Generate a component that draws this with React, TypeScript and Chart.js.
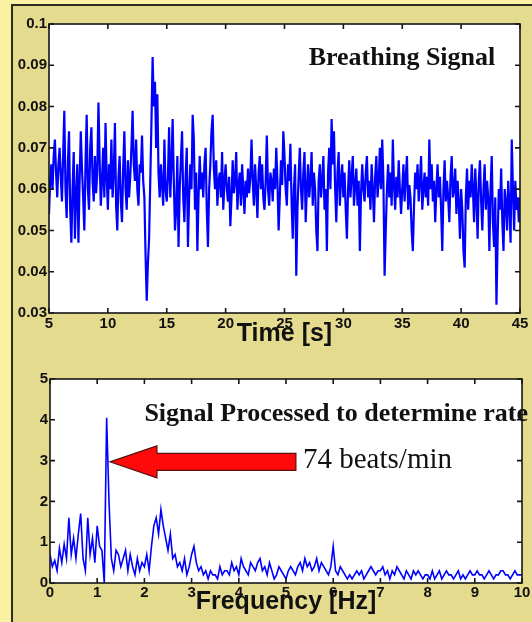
import React, { useEffect, useRef } from 'react';
import { Chart, registerables } from 'chart.js';

Chart.register(...registerables);

// ---------- DATA ----------
// Breathing signal, sampled every 0.1 s from 5 s to 45 s, values in thousandths
const timeStart = 5;
const timeStep = 0.1;
const breathingMilli = [
  54, 62, 66, 60, 68, 72, 64, 58, 66, 70,
  63, 57, 68, 79, 60, 53, 66, 74, 55, 47,
  60, 69, 48, 58, 66, 47, 62, 74, 65, 58,
  50, 66, 78, 60, 55, 70, 75, 62, 57, 68,
  59, 64, 81, 67, 56, 62, 70, 58, 76, 63,
  55, 66, 60, 72, 58, 64, 76, 56, 50, 63,
  68, 57, 52, 65, 74, 60, 55, 67, 58, 63,
  70, 79, 66, 62, 72, 60, 56, 66, 64, 73,
  62, 58, 44, 33, 42, 48, 62, 76, 92, 80,
  86, 70, 83, 64, 58, 66, 61, 56, 72, 60,
  57, 63, 75, 58, 66, 77, 62, 50, 55, 68,
  46, 60, 67, 74, 58, 52, 63, 70, 46, 58,
  66, 60, 78, 72, 55, 64, 45, 58, 68, 60,
  64, 58, 66, 70, 55, 46, 60, 66, 74, 78,
  65, 60, 67, 56, 62, 64, 58, 69, 55, 62,
  66, 60, 57, 63, 51, 58, 67, 59, 62, 69,
  55, 61, 64, 56, 66, 60, 54, 62, 58, 65,
  59, 63, 72, 62, 56, 66, 60, 53, 64, 68,
  60, 66, 58, 55, 62, 73, 60, 56, 64, 62,
  57, 65, 60, 70, 62, 50, 58, 67, 61, 74,
  68, 60, 56, 66, 62, 71, 57, 48, 60, 66,
  39, 55, 63, 70, 60, 55, 64, 69, 52, 60,
  66, 58, 62, 69, 56, 64, 60, 50, 45, 62,
  66, 58, 62, 68, 55, 60, 45, 64, 70, 60,
  77, 66, 74, 60, 52, 64, 69, 56, 62, 66,
  58, 64, 55, 48, 60, 67, 58, 63, 68, 56,
  61, 65, 56, 62, 45, 59, 66, 60, 57, 64,
  68, 58, 62, 55, 66, 60, 52, 63, 68, 58,
  62, 70, 60, 72, 62, 39, 50, 60, 66, 58,
  64, 56, 72, 61, 55, 63, 58, 67, 60, 54,
  60, 66, 57, 63, 68, 55, 61, 58, 50, 45,
  56, 64, 60, 66, 57, 62, 68, 55, 60, 64,
  58, 63, 56, 72, 60, 66, 57, 62, 52, 60,
  66, 58, 63, 55, 45, 60, 67, 57, 62, 58,
  52, 63, 68, 58, 60, 65, 54, 62, 57, 48,
  60, 55, 45, 41, 58, 65, 55, 62, 58, 66,
  60, 52, 65, 58, 48, 62, 67, 57, 50, 60,
  66, 55, 62, 58, 45, 60, 68, 52, 46, 58,
  32, 48, 60, 55, 65, 52, 45, 60, 57, 50,
  62, 56, 47, 72, 60, 50, 62, 55, 58, 52,
  58,
];

// Spectrum, sampled every 0.05 Hz from 0 to 10 Hz, values in hundredths
const freqStart = 0;
const freqStep = 0.05;
const spectrumCenti = [
  70, 40, 55, 30, 85, 50, 95, 60, 160, 70,
  110, 60, 120, 170, 60, 30, 160, 70, 110, 50,
  140, 90, 80, 0, 405, 200, 60, 30, 80, 70,
  40, 60, 80, 30, 70, 40, 20, 60, 30, 50,
  40, 70, 30, 90, 140, 160, 120, 180, 140, 110,
  80, 120, 60, 70, 40, 50, 30, 60, 20, 40,
  70, 90, 50, 30, 40, 20, 30, 10, 30, 20,
  20, 10, 40, 20, 30, 30, 20, 50, 30, 40,
  20, 60, 40, 30, 20, 50, 40, 30, 50, 60,
  30, 40, 20, 50, 30, 10, 20, 40, 30, 20,
  10, 30, 40, 30, 20, 40, 50, 30, 60, 40,
  50, 30, 40, 60, 30, 50, 40, 30, 20, 40,
  90, 30, 20, 40, 30, 20, 10, 20, 10, 20,
  30, 20, 30, 10, 20, 30, 40, 30, 20, 30,
  30, 40, 20, 30, 10, 30, 20, 40, 30, 20,
  10, 30, 20, 10, 30, 20, 30, 20, 10, 20,
  20, 10, 30, 10, 20, 30, 10, 20, 30, 20,
  20, 10, 20, 30, 10, 20, 10, 20, 30, 20,
  20, 30, 20, 20, 10, 20, 30, 20, 10, 20,
  20, 30, 30, 20, 20, 10, 20, 30, 20, 20,
  20,
];

const timeMin = 5;
const timeMax = 45;
const timeTickStep = 5;
const breathMin = 0.03;
const breathMax = 0.1;
const breathTickStep = 0.01;

const freqMin = 0;
const freqMax = 10;
const freqTickStep = 1;
const ampMin = 0;
const ampMax = 5;
const ampTickStep = 1;

const topTitle = 'Breathing Signal';
const bottomTitle = 'Signal Processed to determine rate';
const rateLabel = '74 beats/min';
const xTitleTop = 'Time [s]';
const xTitleBottom = 'Frequency [Hz]';

// ---------- STYLE ----------
const TICK_FONT = { family: '"Liberation Sans", Arial, Helvetica, sans-serif', weight: 'bold' as const, size: 15 };
const TITLE_FONT = { family: '"Liberation Sans", Arial, Helvetica, sans-serif', weight: 'bold' as const, size: 25 };
const SERIF = '"Liberation Serif", "Times New Roman", Times, serif';

const framePlugin = {
  id: 'matlabFrame',
  beforeDraw(chart: any) {
    const { ctx, chartArea: a } = chart;
    ctx.save();
    ctx.fillStyle = '#ffffff';
    ctx.fillRect(a.left, a.top, a.right - a.left, a.bottom - a.top);
    ctx.restore();
  },
  afterDatasetsDraw(chart: any) {
    const { ctx, chartArea: a, scales } = chart;
    const L = 5;
    ctx.save();
    ctx.strokeStyle = '#161616';
    ctx.lineWidth = 1.6;
    ctx.strokeRect(a.left, a.top, a.right - a.left, a.bottom - a.top);
    ctx.beginPath();
    scales.x.ticks.forEach((t: any) => {
      const px = scales.x.getPixelForValue(t.value);
      ctx.moveTo(px, a.bottom);
      ctx.lineTo(px, a.bottom - L);
      ctx.moveTo(px, a.top);
      ctx.lineTo(px, a.top + L);
    });
    scales.y.ticks.forEach((t: any) => {
      const py = scales.y.getPixelForValue(t.value);
      ctx.moveTo(a.left, py);
      ctx.lineTo(a.left + L, py);
      ctx.moveTo(a.right, py);
      ctx.lineTo(a.right - L, py);
    });
    ctx.stroke();
    ctx.restore();
  },
};

function makeOptions(
  xr: [number, number, number],
  yr: [number, number, number],
  padding: any,
  yWidth: number,
  xHeight: number,
  xTitle: string,
  titlePadBottom: number,
  tickPadX: number,
  yCallback: (v: number) => string,
) {
  return {
    responsive: false,
    animation: false as const,
    devicePixelRatio: 1,
    layout: { padding },
    plugins: { legend: { display: false }, tooltip: { enabled: false } },
    elements: { point: { radius: 0 } },
    scales: {
      x: {
        type: 'linear' as const,
        min: xr[0],
        max: xr[1],
        afterFit: (s: any) => { s.height = xHeight; },
        grid: { display: false, drawTicks: false },
        border: { display: false },
        ticks: { stepSize: xr[2], padding: tickPadX, font: TICK_FONT, color: '#111', maxRotation: 0, autoSkip: false },
        title: { display: true, text: xTitle, font: TITLE_FONT, color: '#111', padding: { top: 0, bottom: titlePadBottom } },
      },
      y: {
        type: 'linear' as const,
        min: yr[0],
        max: yr[1],
        afterFit: (s: any) => { s.width = yWidth; },
        grid: { display: false, drawTicks: false },
        border: { display: false },
        ticks: { stepSize: yr[2], padding: 2, font: TICK_FONT, color: '#111', callback: yCallback },
      },
    },
  };
}

export default function App() {
  const topRef = useRef<HTMLCanvasElement | null>(null);
  const botRef = useRef<HTMLCanvasElement | null>(null);

  useEffect(() => {
    const topData = breathingMilli.map((v, i) => ({ x: timeStart + i * timeStep, y: v / 1000 }));
    const botData = spectrumCenti.map((v, i) => ({ x: freqStart + i * freqStep, y: v / 100 }));

    const topAnnot = {
      id: 'topAnnot',
      afterDraw(chart: any) {
        const { ctx, scales } = chart;
        ctx.save();
        ctx.fillStyle = '#111';
        ctx.font = `bold 26px ${SERIF}`;
        ctx.textAlign = 'right';
        ctx.textBaseline = 'alphabetic';
        ctx.fillText(topTitle, scales.x.getPixelForValue(42.9), scales.y.getPixelForValue(0.0901));
        ctx.restore();
      },
    };

    const botAnnot = {
      id: 'botAnnot',
      afterDraw(chart: any) {
        const { ctx, scales } = chart;
        const X = (v: number) => scales.x.getPixelForValue(v);
        const Y = (v: number) => scales.y.getPixelForValue(v);
        ctx.save();
        ctx.fillStyle = '#111';
        ctx.font = `bold 26px ${SERIF}`;
        ctx.textAlign = 'left';
        ctx.textBaseline = 'alphabetic';
        ctx.fillText(bottomTitle, X(2.0), Y(3.96));
        ctx.font = `29px ${SERIF}`;
        ctx.fillText(rateLabel, X(5.36), Y(2.82));

        // red arrow pointing at the peak
        const tipX = X(1.27);
        const tipY = Y(2.97);
        const tailX = X(5.21);
        const headLen = 47;
        const headHalf = 16;
        const shaftHalf = 8.5;
        ctx.beginPath();
        ctx.moveTo(tipX, tipY);
        ctx.lineTo(tipX + headLen, tipY - headHalf);
        ctx.lineTo(tipX + headLen, tipY - shaftHalf);
        ctx.lineTo(tailX, tipY - shaftHalf);
        ctx.lineTo(tailX, tipY + shaftHalf);
        ctx.lineTo(tipX + headLen, tipY + shaftHalf);
        ctx.lineTo(tipX + headLen, tipY + headHalf);
        ctx.closePath();
        ctx.fillStyle = '#ff0a0a';
        ctx.fill();
        ctx.strokeStyle = '#5a1010';
        ctx.lineWidth = 1.2;
        ctx.stroke();
        ctx.restore();
      },
    };

    const c1 = new Chart(topRef.current as HTMLCanvasElement, {
      type: 'line',
      data: {
        datasets: [{ data: topData, borderColor: '#0000ff', borderWidth: 2.2, pointRadius: 0, tension: 0, fill: false }],
      },
      options: makeOptions(
        [timeMin, timeMax, timeTickStep],
        [breathMin, breathMax, breathTickStep],
        { top: 24, right: 12, left: 0, bottom: 0 },
        49,
        37,
        xTitleTop,
        1,
        2,
        (v: number) => String(Number(Number(v).toFixed(2))),
      ) as any,
      plugins: [framePlugin, topAnnot],
    });

    const c2 = new Chart(botRef.current as HTMLCanvasElement, {
      type: 'line',
      data: {
        datasets: [{ data: botData, borderColor: '#0000ff', borderWidth: 1.6, pointRadius: 0, tension: 0, fill: false }],
      },
      options: makeOptions(
        [freqMin, freqMax, freqTickStep],
        [ampMin, ampMax, ampTickStep],
        { top: 29, right: 10, left: 0, bottom: 0 },
        50,
        39,
        xTitleBottom,
        5,
        1,
        (v: number) => String(v),
      ) as any,
      plugins: [framePlugin, botAnnot],
    });

    return () => {
      c1.destroy();
      c2.destroy();
    };
  }, []);

  return (
    <div style={{ position: 'absolute', left: 0, top: 0, width: 532, height: 622, background: '#faf2a2', overflow: 'hidden' }}>
      <div
        style={{
          position: 'absolute',
          left: 11,
          top: 4,
          width: 532,
          height: 622,
          background: '#e4db8e',
          borderLeft: '2px solid #2e2c1c',
          borderTop: '2px solid #2e2c1c',
        }}
      />
      <canvas ref={topRef} width={532} height={350} style={{ position: 'absolute', left: 0, top: 0 }} />
      <canvas ref={botRef} width={532} height={272} style={{ position: 'absolute', left: 0, top: 350 }} />
    </div>
  );
}
